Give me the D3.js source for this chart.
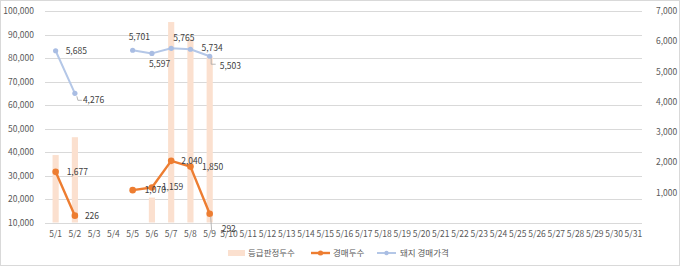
<!DOCTYPE html>
<html>
<head>
<meta charset="utf-8">
<script src="https://cdn.jsdelivr.net/npm/d3@7"></script>
<style>
  html, body { margin: 0; padding: 0; background: #fff; }
  svg { display: block; font-family: "Noto Sans CJK KR", "Noto Sans", sans-serif; }
</style>
</head>
<body>
<svg id="chart" width="680" height="267"></svg>
<script>
// categories: 5/1 .. 5/31
const days = ['5/1','5/2','5/3','5/4','5/5','5/6','5/7','5/8','5/9','5/10','5/11','5/12','5/13','5/14','5/15','5/16',
  '5/17','5/18','5/19','5/20','5/21','5/22','5/23','5/24','5/25','5/26','5/27','5/28','5/29','5/30','5/31'];

// 등급판정두수 (left axis), only first days have data
const gradeCount = [38700, 46300, null, null, null, 20600, 95300, 88000, 80500];
// 경매두수 (right axis)
const auctionCount = [1677, 226, null, null, 1070, 1159, 2040, 1850, 292];
// 돼지 경매가격 (right axis)
const auctionPrice = [5685, 4276, null, null, 5701, 5597, 5765, 5734, 5503];

const leftTicks = [10000, 20000, 30000, 40000, 50000, 60000, 70000, 80000, 90000, 100000];
const rightTicks = [1000, 2000, 3000, 4000, 5000, 6000, 7000];

const seriesNames = ['등급판정두수', '경매두수', '돼지 경매가격'];

const svg = d3.select('#chart');
const W = 680, H = 267;
const plot = { left: 46, right: 643, top: 11, bottom: 222.5 };
const textColor = '#595959';
const gridColor = '#d9d9d9';

// chart frame
svg.append('rect')
  .attr('x', 0.5).attr('y', 0.5)
  .attr('width', W - 1).attr('height', H - 2)
  .attr('fill', '#fff')
  .attr('stroke', gridColor);

const x = d3.scaleBand()
  .domain(days)
  .range([plot.left, plot.right])
  .paddingInner(0.68)
  .paddingOuter(0.34);
const cx = d => x(d) + x.bandwidth() / 2;

const yL = d3.scaleLinear().domain([10000, 100000]).range([plot.bottom, plot.top]);
const yR = d3.scaleLinear().domain([0, 7000]).range([plot.bottom, plot.top]);

// gridlines
svg.append('g')
  .selectAll('line')
  .data(leftTicks)
  .join('line')
  .attr('x1', plot.left - 1).attr('x2', plot.right - 1)
  .attr('y1', d => Math.round(yL(d)) + 0.5)
  .attr('y2', d => Math.round(yL(d)) + 0.5)
  .attr('stroke', gridColor)
  .attr('stroke-width', 1);

// left axis
const fmt = d3.format(',');
const axisL = svg.append('g')
  .attr('transform', `translate(${plot.left - 9},0)`)
  .call(d3.axisLeft(yL).tickValues(leftTicks).tickFormat(fmt).tickSize(0));
axisL.select('.domain').remove();
axisL.selectAll('text')
  .attr('fill', textColor)
  .attr('font-size', '8.5px')
  .attr('font-family', '"Noto Sans CJK KR", sans-serif');

// right axis
const axisR = svg.append('g')
  .attr('transform', `translate(${plot.right + 10},0)`)
  .call(d3.axisRight(yR).tickValues(rightTicks).tickFormat(fmt).tickSize(0));
axisR.select('.domain').remove();
axisR.selectAll('text')
  .attr('fill', textColor)
  .attr('font-size', '8.5px')
  .attr('font-family', '"Noto Sans CJK KR", sans-serif');

// bottom axis
const axisB = svg.append('g')
  .attr('transform', `translate(0,${plot.bottom + 5})`)
  .call(d3.axisBottom(x).tickSize(0));
axisB.select('.domain').remove();
axisB.selectAll('text')
  .attr('fill', textColor)
  .attr('font-size', '8.5px')
  .attr('font-family', '"Noto Sans CJK KR", sans-serif');

// bars
const barColor = '#fbe0cf';
svg.append('g')
  .selectAll('rect')
  .data(gradeCount.map((v, i) => ({ day: days[i], v })).filter(d => d.v != null))
  .join('rect')
  .attr('x', d => x(d.day))
  .attr('width', x.bandwidth())
  .attr('y', d => yL(d.v))
  .attr('height', d => yL(10000) - yL(d.v))
  .attr('fill', barColor);

// lines
const orange = '#ed7d31';
const blue = '#b4c7e7';

function drawLine(values, color, width, r, markerColor) {
  const pts = values.map((v, i) => ({ day: days[i], v }));
  const line = d3.line()
    .defined(d => d.v != null)
    .x(d => cx(d.day))
    .y(d => yR(d.v));
  svg.append('path')
    .datum(pts)
    .attr('d', line)
    .attr('fill', 'none')
    .attr('stroke', color)
    .attr('stroke-width', width)
    .attr('stroke-linejoin', 'round');
  svg.append('g')
    .selectAll('circle')
    .data(pts.filter(d => d.v != null))
    .join('circle')
    .attr('cx', d => cx(d.day))
    .attr('cy', d => yR(d.v))
    .attr('r', r)
    .attr('fill', markerColor);
}

drawLine(auctionPrice, blue, 2, 2.6, '#a9bde3');
drawLine(auctionCount, orange, 2.4, 3.3, orange);

// data labels (offsets relative to the point: dx, dy)
const priceOffsets = [[10, 0], [8, 7], null, null, [-4, -13], [-3, 11], [2, -10], [11, -1], [10, 10]];
const countOffsets = [[11, 0], [10, 0], null, null, [12, 0], [10, 0], [10, 0], [11.5, 0], [12, 15]];

function drawLabels(values, offsets) {
  const pts = values.map((v, i) => ({ day: days[i], v, off: offsets[i] })).filter(d => d.v != null);
  svg.append('g')
    .selectAll('text')
    .data(pts)
    .join('text')
    .attr('x', d => cx(d.day) + d.off[0])
    .attr('y', d => yR(d.v) + d.off[1])
    .attr('dy', '0.35em')
    .attr('fill', '#404040')
    .attr('font-size', '8.5px')
    .text(d => fmt(d.v));
}
drawLabels(auctionPrice, priceOffsets);
drawLabels(auctionCount, countOffsets);

// leader lines for labels pushed away from their points
const leaders = svg.append('g').attr('fill', 'none').attr('stroke', '#a6a6a6').attr('stroke-width', 0.8);
const lp = (day, v, pts) => leaders.append('polyline')
  .attr('points', pts.map(p => [cx(day) + p[0], yR(v) + p[1]].join(',')).join(' '));
lp('5/2', auctionPrice[1], [[2, 3], [3, 7], [7, 7]]);
lp('5/9', auctionPrice[8], [[1.5, 2], [1.5, 8], [6, 8]]);
lp('5/9', auctionCount[8], [[1, 3], [2, 18]]);

// legend
const legend = svg.append('g').attr('transform', 'translate(0,253)');
legend.append('rect').attr('x', 228).attr('y', -3).attr('width', 17).attr('height', 6).attr('fill', barColor);
legend.append('text').attr('x', 248).attr('dy', '0.35em').attr('fill', textColor).attr('font-size', '8.5px').text(seriesNames[0]);
legend.append('line').attr('x1', 311).attr('x2', 330).attr('stroke', orange).attr('stroke-width', 2.4);
legend.append('circle').attr('cx', 320.5).attr('r', 2.6).attr('fill', orange);
legend.append('text').attr('x', 333).attr('dy', '0.35em').attr('fill', textColor).attr('font-size', '8.5px').text(seriesNames[1]);
legend.append('line').attr('x1', 377).attr('x2', 396).attr('stroke', blue).attr('stroke-width', 2);
legend.append('circle').attr('cx', 386.5).attr('r', 2.2).attr('fill', '#a9bde3');
legend.append('text').attr('x', 400).attr('dy', '0.35em').attr('fill', textColor).attr('font-size', '8.5px').text(seriesNames[2]);
</script>
</body>
</html>
